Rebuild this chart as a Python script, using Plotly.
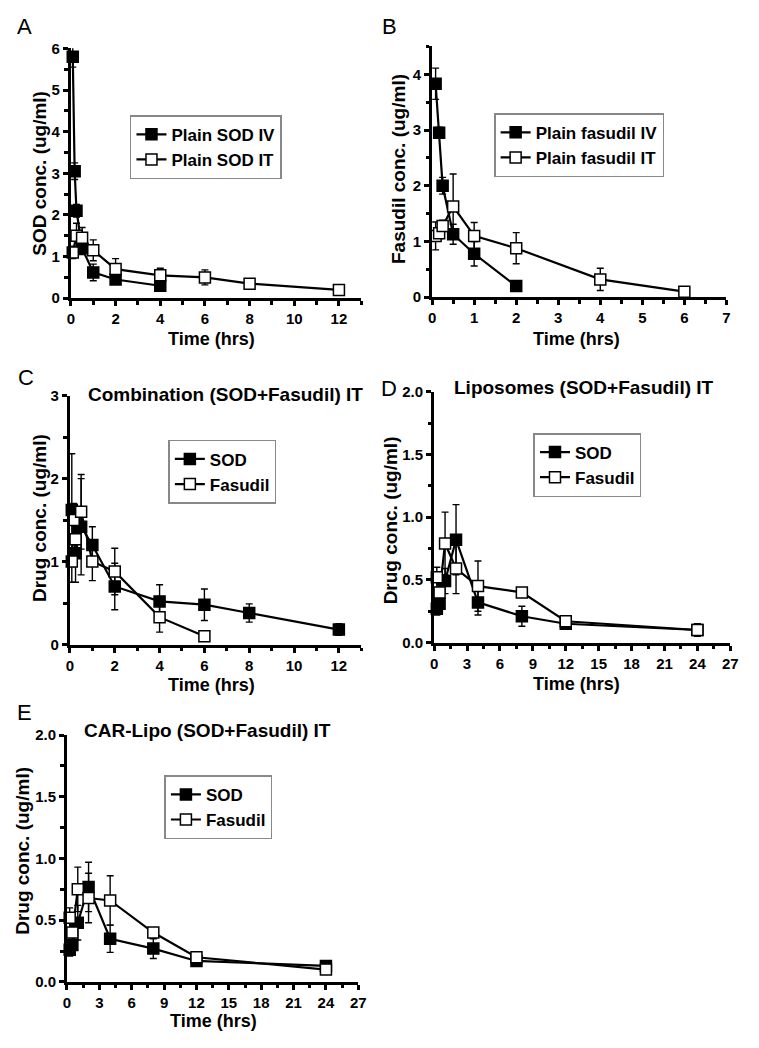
import plotly.graph_objects as go

W, H = 759, 1048

# ---------------- data ----------------
# Panel A
a_iv_t = [0.083, 0.167, 0.25, 0.5, 1, 2, 4]
a_iv_y = [5.8, 3.05, 2.1, 1.2, 0.62, 0.45, 0.3]
a_iv_e = [0.25, 0.2, 0.15, 0.15, 0.2, 0.08, 0.06]
a_it_t = [0.083, 0.25, 0.5, 1, 2, 4, 6, 8, 12]
a_it_y = [1.1, 1.5, 1.45, 1.15, 0.7, 0.55, 0.5, 0.35, 0.2]
a_it_e = [0.15, 0.3, 0.25, 0.25, 0.25, 0.17, 0.18, 0.06, 0.08]

# Panel B
b_iv_t = [0.083, 0.167, 0.25, 0.5, 1, 2]
b_iv_y = [3.83, 2.95, 2.0, 1.13, 0.78, 0.2]
b_iv_e = [0.28, 0.1, 0.15, 0.18, 0.22, 0.03]
b_it_t = [0.083, 0.167, 0.25, 0.5, 1, 2, 4, 6]
b_it_y = [1.1, 1.15, 1.28, 1.63, 1.1, 0.88, 0.32, 0.1]
b_it_e = [0.25, 0.1, 0.1, 0.58, 0.24, 0.28, 0.2, 0.05]

# Panel C
c_sod_t = [0.083, 0.25, 0.5, 1, 2, 4, 6, 8, 12]
c_sod_y = [1.62, 1.1, 1.42, 1.2, 0.7, 0.52, 0.48, 0.38, 0.18]
c_sod_e = [0.68, 0.35, 0.58, 0.22, 0.28, 0.2, 0.19, 0.11, 0.07]
c_fas_t = [0.083, 0.167, 0.25, 0.5, 1, 2, 4, 6]
c_fas_y = [1.0, 1.5, 1.27, 1.6, 1.0, 0.88, 0.33, 0.1]
c_fas_e = [0.25, 0.2, 0.2, 0.45, 0.23, 0.28, 0.18, 0.03]

# Panel D
d_sod_t = [0.25, 0.5, 1, 2, 4, 8, 12, 24]
d_sod_y = [0.27, 0.31, 0.49, 0.82, 0.32, 0.21, 0.15, 0.1]
d_sod_e = [0.05, 0.06, 0.1, 0.28, 0.1, 0.08, 0.03, 0.03]
d_fas_t = [0.25, 0.5, 1, 2, 4, 8, 12, 24]
d_fas_y = [0.52, 0.4, 0.79, 0.59, 0.45, 0.4, 0.17, 0.1]
d_fas_e = [0.08, 0.06, 0.25, 0.2, 0.2, 0.02, 0.03, 0.05]

# Panel E
e_sod_t = [0.25, 0.5, 1, 2, 4, 8, 12, 24]
e_sod_y = [0.26, 0.3, 0.48, 0.77, 0.35, 0.27, 0.17, 0.13]
e_sod_e = [0.05, 0.06, 0.14, 0.2, 0.11, 0.08, 0.03, 0.03]
e_fas_t = [0.25, 0.5, 1, 2, 4, 8, 12, 24]
e_fas_y = [0.52, 0.4, 0.75, 0.68, 0.66, 0.4, 0.2, 0.1]
e_fas_e = [0.08, 0.07, 0.18, 0.2, 0.2, 0.03, 0.03, 0.03]

# ---------------- layout helpers ----------------
def dx(a, b):
    return [a / W, b / W]

def dy(top, bottom):
    return [1 - bottom / H, 1 - top / H]

def px(x):
    return x / W

def py(y):
    return 1 - y / H

FONT = "Liberation Sans, Arial, sans-serif"

fig = go.Figure()

def add_series(t, y, e, name, filled, xa, ya, legend):
    fig.add_trace(go.Scatter(
        x=t, y=y, name=name, mode="lines+markers",
        xaxis=xa, yaxis=ya, legend=legend, cliponaxis=False,
        line=dict(color="black", width=2.2),
        marker=dict(symbol="square", size=11,
                    color="black" if filled else "white",
                    line=dict(color="black", width=1.5)),
        error_y=dict(type="data", array=e, visible=True,
                     color="black", thickness=1.4, width=3.5),
    ))

add_series(a_iv_t, a_iv_y, a_iv_e, "Plain SOD IV", True, "x", "y", "legend")
add_series(a_it_t, a_it_y, a_it_e, "Plain SOD IT", False, "x", "y", "legend")
add_series(b_iv_t, b_iv_y, b_iv_e, "Plain fasudil IV", True, "x2", "y2", "legend2")
add_series(b_it_t, b_it_y, b_it_e, "Plain fasudil IT", False, "x2", "y2", "legend2")
add_series(c_sod_t, c_sod_y, c_sod_e, "SOD", True, "x3", "y3", "legend3")
add_series(c_fas_t, c_fas_y, c_fas_e, "Fasudil", False, "x3", "y3", "legend3")
add_series(d_sod_t, d_sod_y, d_sod_e, "SOD", True, "x4", "y4", "legend4")
add_series(d_fas_t, d_fas_y, d_fas_e, "Fasudil", False, "x4", "y4", "legend4")
add_series(e_sod_t, e_sod_y, e_sod_e, "SOD", True, "x5", "y5", "legend5")
add_series(e_fas_t, e_fas_y, e_fas_e, "Fasudil", False, "x5", "y5", "legend5")

tickfont = dict(family=FONT, size=15, color="black", weight="bold")

def axis(domain, rng, dtick, minor, anchor, fmt=None):
    d = dict(domain=domain, range=rng, dtick=dtick, tick0=0, anchor=anchor,
             showline=True, linecolor="black", linewidth=3,
             ticks="outside", ticklen=5, tickwidth=2.5, tickcolor="black",
             showgrid=False, zeroline=False, tickfont=tickfont, ticklabelstandoff=0,
             minor=dict(dtick=minor, ticks="outside", ticklen=3.5,
                        tickwidth=2.5, tickcolor="black", showgrid=False),
             fixedrange=True)
    if fmt:
        d["tickformat"] = fmt
    return d

# panel pixel boxes: (left, right, top, bottom)
A = (68, 363, 40, 294)
B = (435, 734, 38, 293)
C = (67, 363, 393, 646)
D = (437, 738, 389, 644)
E = (64, 360, 738, 989)

layout = dict(
    width=W, height=H, margin=dict(l=0, r=0, t=0, b=0),
    paper_bgcolor="white", plot_bgcolor="white",
    font=dict(family=FONT, color="black"),
    xaxis=axis(dx(A[0], A[1]), [0, 13], 2, 1, "y"),
    yaxis=axis(dy(A[2], A[3]), [0, 6], 1, 0.5, "x"),
    xaxis2=axis(dx(B[0], B[1]), [0, 7], 1, 0.5, "y2"),
    yaxis2=axis(dy(B[2], B[3]), [0, 4.5], 1, 0.5, "x2"),
    xaxis3=axis(dx(C[0], C[1]), [0, 13], 2, 1, "y3"),
    yaxis3=axis(dy(C[2], C[3]), [0, 3], 1, 0.5, "x3"),
    xaxis4=axis(dx(D[0], D[1]), [0, 27], 3, 1.5, "y4"),
    yaxis4=axis(dy(D[2], D[3]), [0, 2], 0.5, 0.25, "x4", ".1f"),
    xaxis5=axis(dx(E[0], E[1]), [0, 27], 3, 1.5, "y5"),
    yaxis5=axis(dy(E[2], E[3]), [0, 2], 0.5, 0.25, "x5", ".1f"),
)

legfont = dict(family=FONT, size=17, color="black", weight="bold")

def legend(x, y):
    return dict(x=px(x), y=py(y), xanchor="left", yanchor="top",
                bgcolor="white", bordercolor="#888888", borderwidth=1.5,
                font=legfont, itemwidth=30, tracegroupgap=0,
                itemclick=False, itemdoubleclick=False)

layout["legend"] = legend(128, 108)
layout["legend2"] = legend(498, 106)
layout["legend3"] = legend(167, 438)
layout["legend4"] = legend(538, 431)
layout["legend5"] = legend(163, 779)
layout["showlegend"] = True

fig.update_layout(**layout)

ann = []

def text(x, y, s, size, bold=True, angle=0, xanchor="center"):
    ann.append(dict(x=px(x), y=py(y), xref="paper", yref="paper",
                    text=s, showarrow=False, textangle=angle,
                    xanchor=xanchor, yanchor="middle",
                    font=dict(family=FONT, size=size, color="black",
                              weight="bold" if bold else "normal")))

# panel letters
text(21, 18, "A", 22, bold=False)
text(392, 18, "B", 22, bold=False)
text(22, 375, "C", 22, bold=False)
text(391, 386, "D", 22, bold=False)
text(21, 715, "E", 22, bold=False)

# panel titles
text(225, 392, "Combination (SOD+Fasudil) IT", 19)
text(589, 385, "Liposomes (SOD+Fasudil) IT", 19)
text(207, 733, "CAR-Lipo (SOD+Fasudil) IT", 19)

# x-axis titles
text(211, 335, "Time (hrs)", 18)
text(582, 335, "Time (hrs)", 18)
text(211, 687, "Time (hrs)", 18)
text(582, 686, "Time (hrs)", 18)
text(213, 1029, "Time (hrs)", 18)

# y-axis titles
text(36, 167, "SOD conc. (ug/ml)", 19, angle=-90)
text(401, 163, "Fasudil conc. (ug/ml)", 19, angle=-90)
text(36, 517, "Drug conc. (ug/ml)", 19, angle=-90)
text(393, 520, "Drug conc. (ug/ml)", 19, angle=-90)
text(18, 856, "Drug conc. (ug/ml)", 19, angle=-90)

fig.update_layout(annotations=ann)

fig.write_html("out.html",
               config={"displayModeBar": False, "staticPlot": False},
               post_script="document.body.style.margin='0px';"
                           "document.body.style.overflow='hidden';")
